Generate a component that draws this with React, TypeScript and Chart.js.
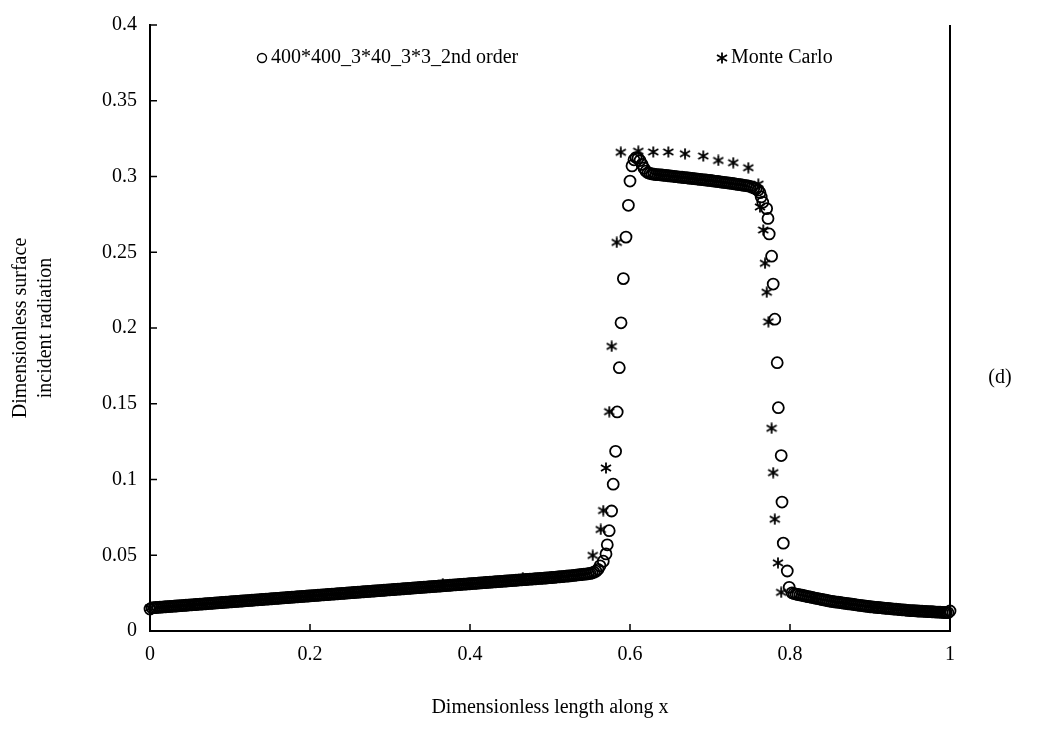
import { useEffect, useRef } from 'react';
import { Chart, registerables } from 'chart.js';

Chart.register(...registerables);

// ---- data ----
const seriesNames = ['400*400_3*40_3*3_2nd order', 'Monte Carlo'];
const xTitle = 'Dimensionless length along x';
const yTitle = ['Dimensionless surface', 'incident radiation'];
const panelLabel = '(d)';
const xTicks = [0, 0.2, 0.4, 0.6, 0.8, 1];
const yTicks = [0, 0.05, 0.1, 0.15, 0.2, 0.25, 0.3, 0.35, 0.4];

// 2nd order numerical solution (circles), [x, y]
const numLeft = [
  [0, 0.0145], [0.0025, 0.0153], [0.005, 0.0154], [0.0075, 0.0155],
  [0.01, 0.0156], [0.0125, 0.0157], [0.015, 0.0158], [0.0175, 0.0159],
  [0.02, 0.016], [0.0225, 0.0161], [0.025, 0.0162], [0.0275, 0.0163],
  [0.03, 0.0164], [0.0325, 0.0165], [0.035, 0.0166], [0.0375, 0.0167],
  [0.04, 0.0168], [0.0425, 0.0169], [0.045, 0.017], [0.0475, 0.0171],
  [0.05, 0.0172], [0.0525, 0.0173], [0.055, 0.0174], [0.0575, 0.0175],
  [0.06, 0.0176], [0.0625, 0.0177], [0.065, 0.0178], [0.0675, 0.0179],
  [0.07, 0.018], [0.0725, 0.0181], [0.075, 0.0182], [0.0775, 0.0183],
  [0.08, 0.0184], [0.0825, 0.0185], [0.085, 0.0186], [0.0875, 0.0187],
  [0.09, 0.0188], [0.0925, 0.0189], [0.095, 0.019], [0.0975, 0.0191],
  [0.1, 0.0192], [0.1025, 0.0193], [0.105, 0.0194], [0.1075, 0.0195],
  [0.11, 0.0196], [0.1125, 0.0197], [0.115, 0.0198], [0.1175, 0.0199],
  [0.12, 0.02], [0.1225, 0.0201], [0.125, 0.0202], [0.1275, 0.0203],
  [0.13, 0.0204], [0.1325, 0.0205], [0.135, 0.0206], [0.1375, 0.0207],
  [0.14, 0.0208], [0.1425, 0.0209], [0.145, 0.021], [0.1475, 0.0211],
  [0.15, 0.0212], [0.1525, 0.0213], [0.155, 0.0214], [0.1575, 0.0215],
  [0.16, 0.0216], [0.1625, 0.0217], [0.165, 0.0218], [0.1675, 0.0219],
  [0.17, 0.022], [0.1725, 0.0221], [0.175, 0.0222], [0.1775, 0.0223],
  [0.18, 0.0224], [0.1825, 0.0225], [0.185, 0.0226], [0.1875, 0.0227],
  [0.19, 0.0228], [0.1925, 0.0229], [0.195, 0.023], [0.1975, 0.0231],
  [0.2, 0.0232], [0.2025, 0.0233], [0.205, 0.0234], [0.2075, 0.0235],
  [0.21, 0.0236], [0.2125, 0.0237], [0.215, 0.0238], [0.2175, 0.0239],
  [0.22, 0.024], [0.2225, 0.0241], [0.225, 0.0242], [0.2275, 0.0243],
  [0.23, 0.0244], [0.2325, 0.0245], [0.235, 0.0246], [0.2375, 0.0247],
  [0.24, 0.0248], [0.2425, 0.0249], [0.245, 0.025], [0.2475, 0.0251],
  [0.25, 0.0252], [0.2525, 0.0253], [0.255, 0.0254], [0.2575, 0.0255],
  [0.26, 0.0256], [0.2625, 0.0257], [0.265, 0.0258], [0.2675, 0.0259],
  [0.27, 0.026], [0.2725, 0.0261], [0.275, 0.0262], [0.2775, 0.0263],
  [0.28, 0.0264], [0.2825, 0.0265], [0.285, 0.0266], [0.2875, 0.0267],
  [0.29, 0.0268], [0.2925, 0.0269], [0.295, 0.027], [0.2975, 0.0271],
  [0.3, 0.0272], [0.3025, 0.0273], [0.305, 0.0274], [0.3075, 0.0275],
  [0.31, 0.0276], [0.3125, 0.0277], [0.315, 0.0278], [0.3175, 0.0279],
  [0.32, 0.028], [0.3225, 0.0281], [0.325, 0.0282], [0.3275, 0.0283],
  [0.33, 0.0284], [0.3325, 0.0285], [0.335, 0.0286], [0.3375, 0.0287],
  [0.34, 0.0288], [0.3425, 0.0289], [0.345, 0.029], [0.3475, 0.0291],
  [0.35, 0.0292], [0.3525, 0.0293], [0.355, 0.0294], [0.3575, 0.0295],
  [0.36, 0.0296], [0.3625, 0.0297], [0.365, 0.0298], [0.3675, 0.0299],
  [0.37, 0.03], [0.3725, 0.0301], [0.375, 0.0302], [0.3775, 0.0303],
  [0.38, 0.0304], [0.3825, 0.0305], [0.385, 0.0306], [0.3875, 0.0307],
  [0.39, 0.0308], [0.3925, 0.0309], [0.395, 0.031], [0.3975, 0.0311],
  [0.4, 0.0312], [0.4025, 0.0313], [0.405, 0.0314], [0.4075, 0.0315],
  [0.41, 0.0316], [0.4125, 0.0317], [0.415, 0.0318], [0.4175, 0.0319],
  [0.42, 0.032], [0.4225, 0.0321], [0.425, 0.0322], [0.4275, 0.0323],
  [0.43, 0.0324], [0.4325, 0.0325], [0.435, 0.0326], [0.4375, 0.0327],
  [0.44, 0.0328], [0.4425, 0.0329], [0.445, 0.033], [0.4475, 0.0331],
  [0.45, 0.0332], [0.4525, 0.0333], [0.455, 0.0334], [0.4575, 0.0335],
  [0.46, 0.0336], [0.4625, 0.0337], [0.465, 0.0338], [0.4675, 0.0339],
  [0.47, 0.034], [0.4725, 0.0341], [0.475, 0.0342], [0.4775, 0.0343],
  [0.48, 0.0344], [0.4825, 0.0345], [0.485, 0.0346], [0.4875, 0.0347],
  [0.49, 0.0348], [0.4925, 0.0349], [0.495, 0.035], [0.4975, 0.0351],
  [0.5, 0.0352], [0.5025, 0.0353], [0.505, 0.0354], [0.5075, 0.0356],
  [0.51, 0.0357], [0.5125, 0.0358], [0.515, 0.0359], [0.5175, 0.0361],
  [0.52, 0.0362], [0.5225, 0.0363], [0.525, 0.0364], [0.5275, 0.0366],
  [0.53, 0.0367], [0.5325, 0.0369], [0.535, 0.037], [0.5375, 0.0372],
  [0.54, 0.0373], [0.5425, 0.0375], [0.545, 0.0376], [0.5475, 0.0378],
  [0.55, 0.038], [0.5525, 0.0383], [0.555, 0.0388], [0.5575, 0.0395],
  [0.56, 0.0407],
];
const numRise = [
  [0.5625, 0.043], [0.5666, 0.0461], [0.57, 0.0509], [0.5716, 0.0569],
  [0.574, 0.0662], [0.577, 0.0792], [0.579, 0.0969], [0.582, 0.1186],
  [0.584, 0.1446], [0.5866, 0.1738], [0.5888, 0.2034], [0.5917, 0.2326],
  [0.595, 0.26], [0.598, 0.281], [0.6, 0.297],
];
const numTop = [
  [0.6025, 0.307], [0.605, 0.311], [0.6075, 0.3125], [0.61, 0.312],
  [0.6125, 0.3105], [0.615, 0.308], [0.6175, 0.3055], [0.62, 0.3035],
  [0.6225, 0.3025], [0.625, 0.302], [0.6275, 0.3017], [0.63, 0.3015],
  [0.6325, 0.3013], [0.635, 0.3012], [0.6375, 0.3011], [0.64, 0.301],
  [0.6425, 0.3008], [0.645, 0.3007], [0.6475, 0.3005], [0.65, 0.3004],
  [0.6525, 0.3002], [0.655, 0.3001], [0.6575, 0.2999], [0.66, 0.2998],
  [0.6625, 0.2996], [0.665, 0.2995], [0.6675, 0.2993], [0.67, 0.2992],
  [0.6725, 0.299], [0.675, 0.2989], [0.6775, 0.2987], [0.68, 0.2986],
  [0.6825, 0.2984], [0.685, 0.2983], [0.6875, 0.2981], [0.69, 0.298],
  [0.6925, 0.2978], [0.695, 0.2977], [0.6975, 0.2975], [0.7, 0.2974],
  [0.7025, 0.2972], [0.705, 0.297], [0.7075, 0.2968], [0.71, 0.2967],
  [0.7125, 0.2965], [0.715, 0.2963], [0.7175, 0.2961], [0.72, 0.296],
  [0.7225, 0.2958], [0.725, 0.2956], [0.7275, 0.2954], [0.73, 0.2952],
  [0.7325, 0.295], [0.735, 0.2948], [0.7375, 0.2946], [0.74, 0.2944],
  [0.7425, 0.2942], [0.745, 0.294], [0.7475, 0.2938], [0.75, 0.2935],
  [0.7525, 0.293], [0.755, 0.2925], [0.7575, 0.2918], [0.76, 0.291],
  [0.7625, 0.2893], [0.764, 0.2865],
];
const numFall = [
  [0.766, 0.283], [0.7708, 0.2788], [0.7725, 0.2723], [0.774, 0.2621],
  [0.777, 0.2474], [0.779, 0.229], [0.781, 0.2058], [0.784, 0.1771],
  [0.7854, 0.1474], [0.789, 0.1158], [0.79, 0.0851], [0.7916, 0.058],
  [0.7966, 0.0396], [0.799, 0.0288],
];
const numRight = [
  [0.8025, 0.0252], [0.805, 0.0247], [0.8075, 0.0244], [0.81, 0.0241],
  [0.8125, 0.0238], [0.815, 0.0236], [0.8175, 0.0233], [0.82, 0.023],
  [0.8225, 0.0227], [0.825, 0.0225], [0.8275, 0.0222], [0.83, 0.0219],
  [0.8325, 0.0216], [0.835, 0.0214], [0.8375, 0.0211], [0.84, 0.0208],
  [0.8425, 0.0205], [0.845, 0.0203], [0.8475, 0.02], [0.85, 0.0197],
  [0.8525, 0.0195], [0.855, 0.0193], [0.8575, 0.0191], [0.86, 0.019],
  [0.8625, 0.0188], [0.865, 0.0186], [0.8675, 0.0184], [0.87, 0.0182],
  [0.8725, 0.018], [0.875, 0.0179], [0.8775, 0.0177], [0.88, 0.0175],
  [0.8825, 0.0173], [0.885, 0.0171], [0.8875, 0.0169], [0.89, 0.0168],
  [0.8925, 0.0166], [0.895, 0.0164], [0.8975, 0.0162], [0.9, 0.016],
  [0.9025, 0.0159], [0.905, 0.0158], [0.9075, 0.0156], [0.91, 0.0155],
  [0.9125, 0.0154], [0.915, 0.0153], [0.9175, 0.0151], [0.92, 0.015],
  [0.9225, 0.0149], [0.925, 0.0148], [0.9275, 0.0146], [0.93, 0.0145],
  [0.9325, 0.0144], [0.935, 0.0143], [0.9375, 0.0141], [0.94, 0.014],
  [0.9425, 0.0139], [0.945, 0.0138], [0.9475, 0.0136], [0.95, 0.0135],
  [0.9525, 0.0134], [0.955, 0.0134], [0.9575, 0.0133], [0.96, 0.0132],
  [0.9625, 0.0131], [0.965, 0.0131], [0.9675, 0.013], [0.97, 0.0129],
  [0.9725, 0.0128], [0.975, 0.0128], [0.9775, 0.0127], [0.98, 0.0126],
  [0.9825, 0.0125], [0.985, 0.0125], [0.9875, 0.0124], [0.99, 0.0123],
  [0.9925, 0.0122], [0.995, 0.0122], [0.9975, 0.0121], [1, 0.0132],
];

// Monte Carlo (stars), [x, y]
const mcPoints = [
  [0, 0.0152], [0.05, 0.0172], [0.1, 0.0192], [0.15, 0.0212], [0.2, 0.0232],
  [0.25, 0.0252], [0.3, 0.0272], [0.366, 0.0312], [0.42, 0.0322], [0.466, 0.0352],
  [0.51, 0.0357], [0.5534, 0.0499], [0.5634, 0.067], [0.5666, 0.0795], [0.57, 0.1076],
  [0.5741, 0.1448], [0.5771, 0.1879], [0.5834, 0.2565], [0.5885, 0.316], [0.6104, 0.3167],
  [0.6291, 0.3162], [0.6479, 0.3162], [0.6688, 0.315], [0.6916, 0.3135], [0.7104, 0.3106],
  [0.7291, 0.3091], [0.7479, 0.3058], [0.7604, 0.295], [0.7625, 0.2799], [0.7666, 0.2647],
  [0.7688, 0.2427], [0.7709, 0.2236], [0.773, 0.2041], [0.777, 0.1338], [0.779, 0.1045],
  [0.781, 0.0738], [0.785, 0.045], [0.789, 0.0255], [0.83, 0.0219], [0.87, 0.0182],
  [0.905, 0.0158], [0.95, 0.0135], [0.99, 0.0123],
];

const FAMILY = '"Liberation Serif", "Times New Roman", serif';

function makeStar(): HTMLCanvasElement {
  const c = document.createElement('canvas');
  c.width = 12;
  c.height = 12;
  const g = c.getContext('2d')!;
  g.strokeStyle = '#000';
  g.lineWidth = 1.8;
  g.beginPath();
  g.moveTo(1, 3);
  g.lineTo(11, 9);
  g.moveTo(1, 9);
  g.lineTo(11, 3);
  g.moveTo(6, 0.5);
  g.lineTo(6, 11.5);
  g.stroke();
  return c;
}

const toXY = (arr: number[][]) => arr.map(([x, y]) => ({ x, y }));

export default function App() {
  const ref = useRef<HTMLCanvasElement>(null);

  useEffect(() => {
    document.body.style.margin = '0';
    const star = makeStar();
    const font = { family: FAMILY, size: 20 };

    const overlay = {
      id: 'overlay',
      afterDraw(chart: any) {
        const { ctx, chartArea } = chart;
        const { left, right, top, bottom } = chartArea;
        const xs = chart.scales.x;
        const ys = chart.scales.y;
        ctx.save();
        ctx.strokeStyle = '#000';
        ctx.lineWidth = 1.5;
        ctx.beginPath();
        xTicks.forEach((v) => {
          const px = xs.getPixelForValue(v);
          ctx.moveTo(px, bottom);
          ctx.lineTo(px, bottom - 7);
        });
        yTicks.forEach((v) => {
          const py = ys.getPixelForValue(v);
          ctx.moveTo(left, py);
          ctx.lineTo(left + 7, py);
        });
        ctx.stroke();
        ctx.lineWidth = 2;
        ctx.beginPath();
        ctx.moveTo(right, top);
        ctx.lineTo(right, bottom + 1);
        ctx.stroke();

        // legend
        ctx.font = `20px ${FAMILY}`;
        ctx.fillStyle = '#000';
        ctx.textBaseline = 'middle';
        ctx.textAlign = 'left';
        const ly = 58;
        ctx.lineWidth = 1.4;
        ctx.beginPath();
        ctx.arc(262, ly, 4.5, 0, Math.PI * 2);
        ctx.stroke();
        ctx.fillText(seriesNames[0], 271, ly);
        ctx.drawImage(star, 722 - 6, ly - 6);
        ctx.fillText(seriesNames[1], 731, ly);

        ctx.textAlign = 'center';
        ctx.fillText(panelLabel, 1000, 378);
        ctx.restore();
      },
    };

    const numData = [
      ...toXY(numLeft),
      ...toXY(numRise),
      ...toXY(numTop),
      ...toXY(numFall),
      ...toXY(numRight),
    ];

    const chart = new Chart(ref.current!, {
      type: 'scatter',
      data: {
        datasets: [
          {
            label: seriesNames[0],
            data: numData,
            pointStyle: 'circle',
            pointRadius: 5.5,
            pointBorderWidth: 1.8,
            borderColor: '#000',
            backgroundColor: 'rgba(0,0,0,0)',
            showLine: false,
            clip: false,
          } as any,
          {
            label: seriesNames[1],
            data: toXY(mcPoints),
            pointStyle: star,
            pointRadius: 6,
            borderColor: '#000',
            backgroundColor: '#000',
            showLine: false,
            clip: false,
          } as any,
        ],
      },
      options: {
        responsive: false,
        animation: false,
        devicePixelRatio: 1,
        events: [],
        layout: { padding: { left: 0, right: 101, top: 15, bottom: 0 } },
        plugins: { legend: { display: false }, tooltip: { enabled: false } },
        scales: {
          x: {
            type: 'linear',
            min: 0,
            max: 1,
            afterBuildTicks: (s: any) => {
              s.ticks = xTicks.map((v) => ({ value: v }));
            },
            afterFit: (s: any) => {
              s.height = 100;
            },
            ticks: {
              font,
              color: '#000',
              padding: 12,
              maxRotation: 0,
              autoSkip: false,
              callback: (v: any) => String(v),
            },
            grid: { display: false, drawTicks: false },
            border: { display: true, color: '#000', width: 2 },
            title: {
              display: true,
              text: xTitle,
              font,
              color: '#000',
              padding: { top: 0, bottom: 11 },
            },
          },
          y: {
            type: 'linear',
            min: 0,
            max: 0.4,
            afterBuildTicks: (s: any) => {
              s.ticks = yTicks.map((v) => ({ value: v }));
            },
            afterFit: (s: any) => {
              s.width = 150;
            },
            ticks: {
              font,
              color: '#000',
              padding: 13,
              autoSkip: false,
              callback: (v: any) => String(v),
            },
            grid: { display: false, drawTicks: false },
            border: { display: true, color: '#000', width: 2 },
            title: {
              display: true,
              text: yTitle,
              font: { family: FAMILY, size: 20, lineHeight: 1.25 },
              color: '#000',
              padding: { top: 8.5, bottom: 0 },
            },
          },
        },
      } as any,
      plugins: [overlay],
    });
    return () => chart.destroy();
  }, []);

  return (
    <div style={{ width: 1051, height: 731, position: 'relative' }}>
      <canvas ref={ref} width={1051} height={731} style={{ display: 'block' }} />
    </div>
  );
}
